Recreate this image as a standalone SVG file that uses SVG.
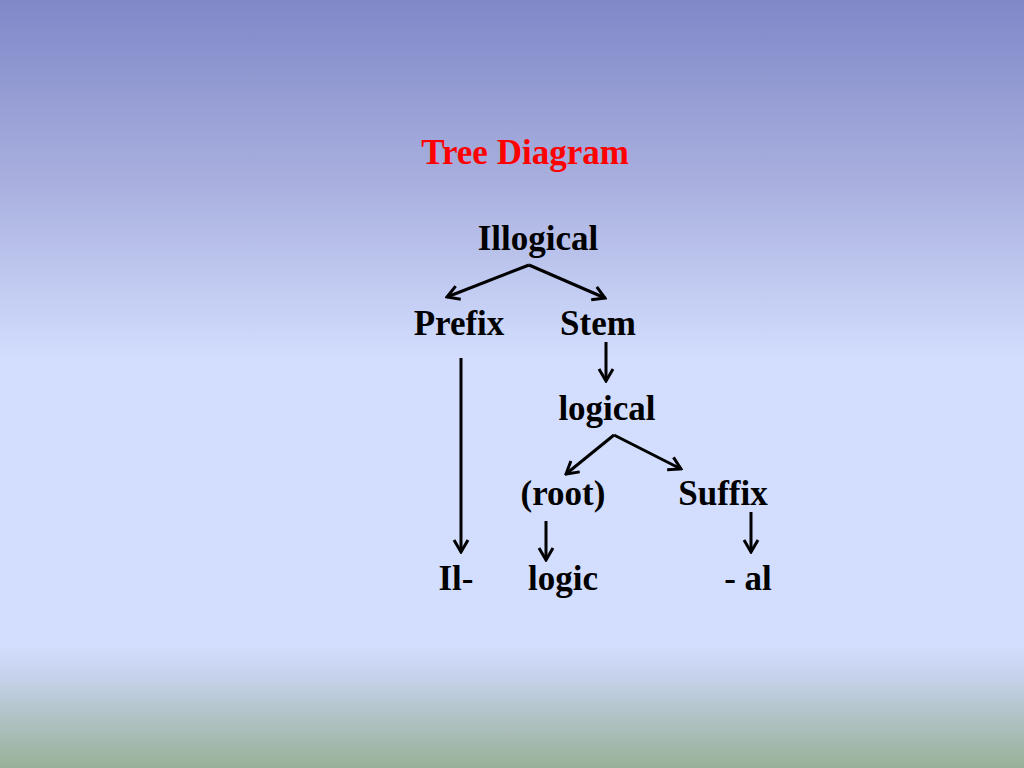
<svg xmlns="http://www.w3.org/2000/svg" width="1024" height="768" viewBox="0 0 1024 768">
<defs>
<linearGradient id="bg" x1="0" y1="0" x2="0" y2="1">
<stop offset="0" stop-color="#8088c8"/>
<stop offset="0.25" stop-color="#abb2e0"/>
<stop offset="0.47" stop-color="#d3defe"/>
<stop offset="0.84" stop-color="#d3defe"/>
<stop offset="0.88" stop-color="#c6d2ec"/>
<stop offset="0.93" stop-color="#b2c4c8"/>
<stop offset="1" stop-color="#98b098"/>
</linearGradient>
<marker id="ah" viewBox="0 0 20 20" refX="18" refY="10" markerWidth="20" markerHeight="20" markerUnits="userSpaceOnUse" orient="auto">
<path d="M6,3 L18,10 L6,17" fill="none" stroke="#000" stroke-width="3" stroke-linejoin="miter"/>
</marker>
</defs>
<style>
.t{font-family:"Liberation Serif","Times New Roman",serif;font-weight:bold;font-size:35px;fill:#000;text-anchor:middle}
.c{stroke:#000;stroke-width:3;fill:none;marker-end:url(#ah)}
</style>
<rect width="1024" height="768" fill="url(#bg)"/>
<text class="t" x="525" y="164" style="fill:#ff0000">Tree Diagram</text>
<g id="n-illogical"><text class="t" x="538" y="250">Illogical</text></g>
<g id="n-prefix"><text class="t" x="459" y="335">Prefix</text></g>
<g id="n-stem"><text class="t" x="598" y="335">Stem</text></g>
<g id="n-logical"><text class="t" x="607" y="420">logical</text></g>
<g id="n-root"><text class="t" x="563" y="505">(root)</text></g>
<g id="n-suffix"><text class="t" x="723" y="505">Suffix</text></g>
<g id="n-il"><text class="t" x="456" y="590">Il-</text></g>
<g id="n-logic"><text class="t" x="563" y="590">logic</text></g>
<g id="n-al"><text class="t" x="748" y="590">- al</text></g>
<g id="connectors">
<path class="c" d="M529,265 L447,297"/>
<path class="c" d="M529,265 L605,298"/>
<path class="c" d="M606,342 L606,381"/>
<path class="c" d="M461,358 L461,552"/>
<path class="c" d="M614,435 L566,474"/>
<path class="c" d="M614,435 L681,469"/>
<path class="c" d="M546,521 L546,560"/>
<path class="c" d="M751,512 L751,552"/>
</g>
</svg>
